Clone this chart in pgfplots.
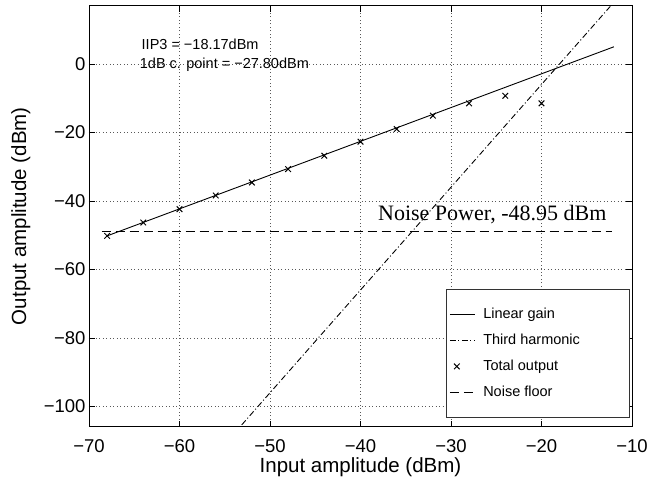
\documentclass[border=0pt]{standalone}
\usepackage{fontspec}
\setmainfont{Liberation Sans}
\newfontfamily\seriffont{Liberation Serif}
\usepackage{pgfplots}
\pgfplotsset{compat=1.18}
\pgfplotsset{
  lineleg/.style={legend image code/.code={\draw[##1] (0pt,0pt) -- (25pt,0pt);}},
  markleg/.style={legend image code/.code={\draw[##1] plot coordinates {(7pt,0pt)};}},
}
\begin{document}
\begin{tikzpicture}
\path[use as bounding box] (-89pt,-57pt) rectangle (568pt,426.7pt);
\begin{axis}[
  at={(0,0)}, anchor=south west,
  scale only axis, width=543pt, height=421pt,
  xmin=-70, xmax=-10, ymin=-105.9, ymax=17,
  xtick={-70,-60,-50,-40,-30,-20,-10},
  xticklabels={−70,−60,−50,−40,−30,−20,−10},
  ytick={-100,-80,-60,-40,-20,0},
  yticklabels={−100,−80,−60,−40,−20,0},
  tick label style={font=\fontsize{18.5}{20}\selectfont},
  xticklabel style={anchor=base, yshift=-25.5pt, inner sep=0pt},
  label style={font=\fontsize{20.5}{22}\selectfont, inner sep=0pt},
  xlabel={Input amplitude (dBm)},
  ylabel={Output amplitude (dBm)},
  xlabel style={at={(axis description cs:0.5,-0.1080)}, anchor=base},
  ylabel style={at={(axis description cs:-0.116,0.5)}, anchor=base},
  tick align=inside, major tick length=6pt,
  axis line style={line width=0.9pt},
  every tick/.style={black, line width=0.8pt},
  grid=major,
  major grid style={black!65, line width=0.5pt, dash pattern=on 0.7pt off 2.8pt},
  legend style={at={(0.6575,0.327)}, anchor=north west, draw=black!80, line width=0.7pt, fill=white,
    font=\fontsize{14.5}{16}\selectfont, inner xsep=3pt, inner ysep=17pt, row sep=10pt,
    nodes={inner sep=2pt},
    /tikz/every odd column/.append style={column sep=6pt}},
  legend cell align=left,
  clip=true,
]
\addplot[black, line width=0.9pt, lineleg]
  coordinates {(-68,-50.2) (-12,5.0)};
\addlegendentry{Linear gain}
\addplot[black, line width=0.9pt, dash pattern=on 6pt off 2.5pt on 1pt off 2.5pt, lineleg]
  coordinates {(-54,-108) (-12.4,16.8)};
\addlegendentry{Third harmonic\hspace*{44pt}}
\addplot[black, only marks, mark=x, mark size=4pt, mark options={line width=1pt}, markleg]
  coordinates {(-68,-50.2) (-64,-46.3) (-60,-42.4) (-56,-38.4) (-52,-34.6) (-48,-30.7)
   (-44,-26.8) (-40,-22.7) (-36,-19.0) (-32,-15.1) (-28,-11.5) (-24,-9.3) (-20,-11.5)};
\addlegendentry{Total output}
\addplot[black, line width=0.8pt, dash pattern=on 9pt off 5pt, lineleg]
  coordinates {(-68.6,-48.95) (-12.2,-48.95)};
\addlegendentry{Noise floor}
\node[anchor=base west, font=\fontsize{14.5}{16}\selectfont, inner sep=0pt] at (axis cs:-64.2,4.1) {IIP3 = −18.17dBm};
\node[anchor=base west, font=\fontsize{14.5}{16}\selectfont, inner sep=0pt] at (axis cs:-64.4,-1.25) {1dB c. point = −27.80dBm};
\node[anchor=base west, font=\seriffont\fontsize{22}{24}\selectfont, inner sep=0pt] at (axis cs:-38.07,-45.8) {Noise Power, -48.95 dBm};
\end{axis}
\end{tikzpicture}
\end{document}
